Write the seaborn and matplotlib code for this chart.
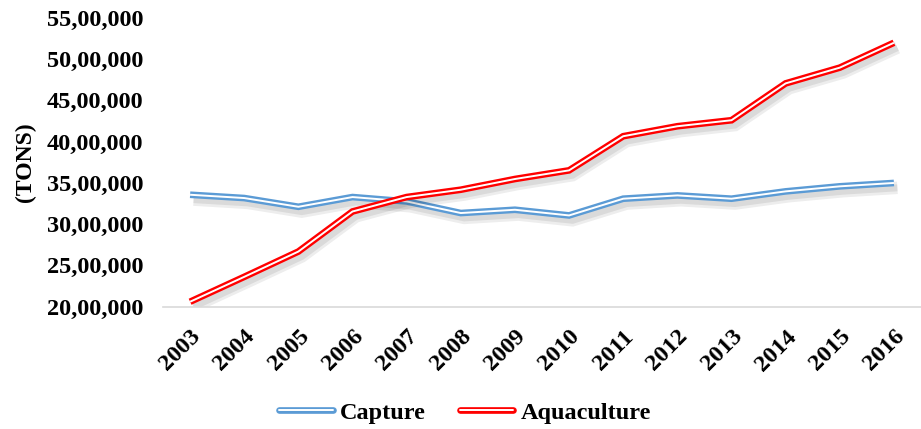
import matplotlib
matplotlib.use('Agg')
import matplotlib.pyplot as plt
import matplotlib.patheffects as pe
from matplotlib.lines import Line2D
from matplotlib.ticker import FuncFormatter
import seaborn as sns
import pandas as pd

years = list(range(2003, 2017))
capture = [3356000, 3316000, 3210000, 3328000, 3275000, 3134000, 3174000,
           3105000, 3308000, 3348000, 3308000, 3397000, 3458000, 3499000]
aquaculture = [2058000, 2360000, 2667000, 3153000, 3328000, 3417000, 3547000,
               3652000, 4066000, 4187000, 4260000, 4707000, 4898000, 5200000]
series_names = ['Capture', 'Aquaculture']
colors = {'Capture': '#5B9BD5', 'Aquaculture': '#FF0000'}
yticks = [2000000, 2500000, 3000000, 3500000, 4000000, 4500000, 5000000, 5500000]

df = pd.DataFrame({
    'Year': years * 2,
    'Tons': capture + aquaculture,
    'Series': ['Capture'] * len(years) + ['Aquaculture'] * len(years),
})


def indian(v, pos=None):
    s = str(int(round(v)))
    last3 = s[-3:]
    rest = s[:-3]
    parts = []
    while len(rest) > 2:
        parts.insert(0, rest[-2:])
        rest = rest[:-2]
    if rest:
        parts.insert(0, rest)
    return ','.join(parts + [last3])


sns.set_style('white')
plt.rcParams['font.family'] = ['Liberation Serif', 'DejaVu Serif']
plt.rcParams['font.weight'] = 'bold'
plt.rcParams['text.color'] = 'black'
plt.rcParams['xtick.color'] = 'black'
plt.rcParams['ytick.color'] = 'black'
plt.rcParams['axes.labelcolor'] = 'black'

fig = plt.figure(figsize=(9.21, 4.29), dpi=100)
ax = fig.add_axes([0.177, 0.2855, 0.823, 0.6725])

sns.lineplot(data=df, x='Year', y='Tons', hue='Series', hue_order=series_names,
             palette=colors, linewidth=4.8, legend=False, ax=ax)

# double line look + soft drop shadow
effects = [pe.SimpleLineShadow(offset=(2.5, -3.5), shadow_color='black', alpha=0.07, linewidth=9),
           pe.SimpleLineShadow(offset=(2.5, -3.5), shadow_color='black', alpha=0.08, linewidth=5),
           pe.Normal(),
           pe.Stroke(linewidth=1.4, foreground='white')]
for ln in ax.lines:
    ln.set_path_effects(effects)
    ln.set_solid_joinstyle('miter')
    ln.set_solid_capstyle('butt')

ax.set_xlim(2002.5, 2016.5)
ax.set_ylim(2000000, 5500000)
ax.set_xticks(years)
ax.set_xticklabels([str(y) for y in years], rotation=45, ha='right', va='top',
                   rotation_mode='anchor', fontsize=17.5, fontweight='bold')
ax.set_yticks(yticks)
ax.yaxis.set_major_formatter(FuncFormatter(indian))
for t in ax.get_yticklabels():
    t.set_fontsize(17.5)
    t.set_fontweight('bold')
ax.tick_params(axis='y', length=0, pad=14)
ax.tick_params(axis='x', length=0, pad=14)

ax.set_xlabel('')
ax.set_ylabel('(TONS)', fontsize=17, fontweight='bold')
ax.yaxis.set_label_coords(-0.168, 0.5)

for side in ['top', 'right', 'left']:
    ax.spines[side].set_visible(False)
ax.spines['bottom'].set_color('#D9D9D9')
ax.spines['bottom'].set_linewidth(1.2)

handles = [Line2D([0], [0], color=colors[n], linewidth=4.8,
                  path_effects=[pe.Normal(), pe.Stroke(linewidth=1.4, foreground='white')])
           for n in series_names]
fig.legend(handles, series_names, loc='center', bbox_to_anchor=(0.505, 0.038), ncol=2,
           frameon=False, prop={'size': 17.5, 'weight': 'bold'}, handlelength=2.2,
           columnspacing=1.4, handletextpad=0.3)

fig.savefig('out.png', dpi=100)
